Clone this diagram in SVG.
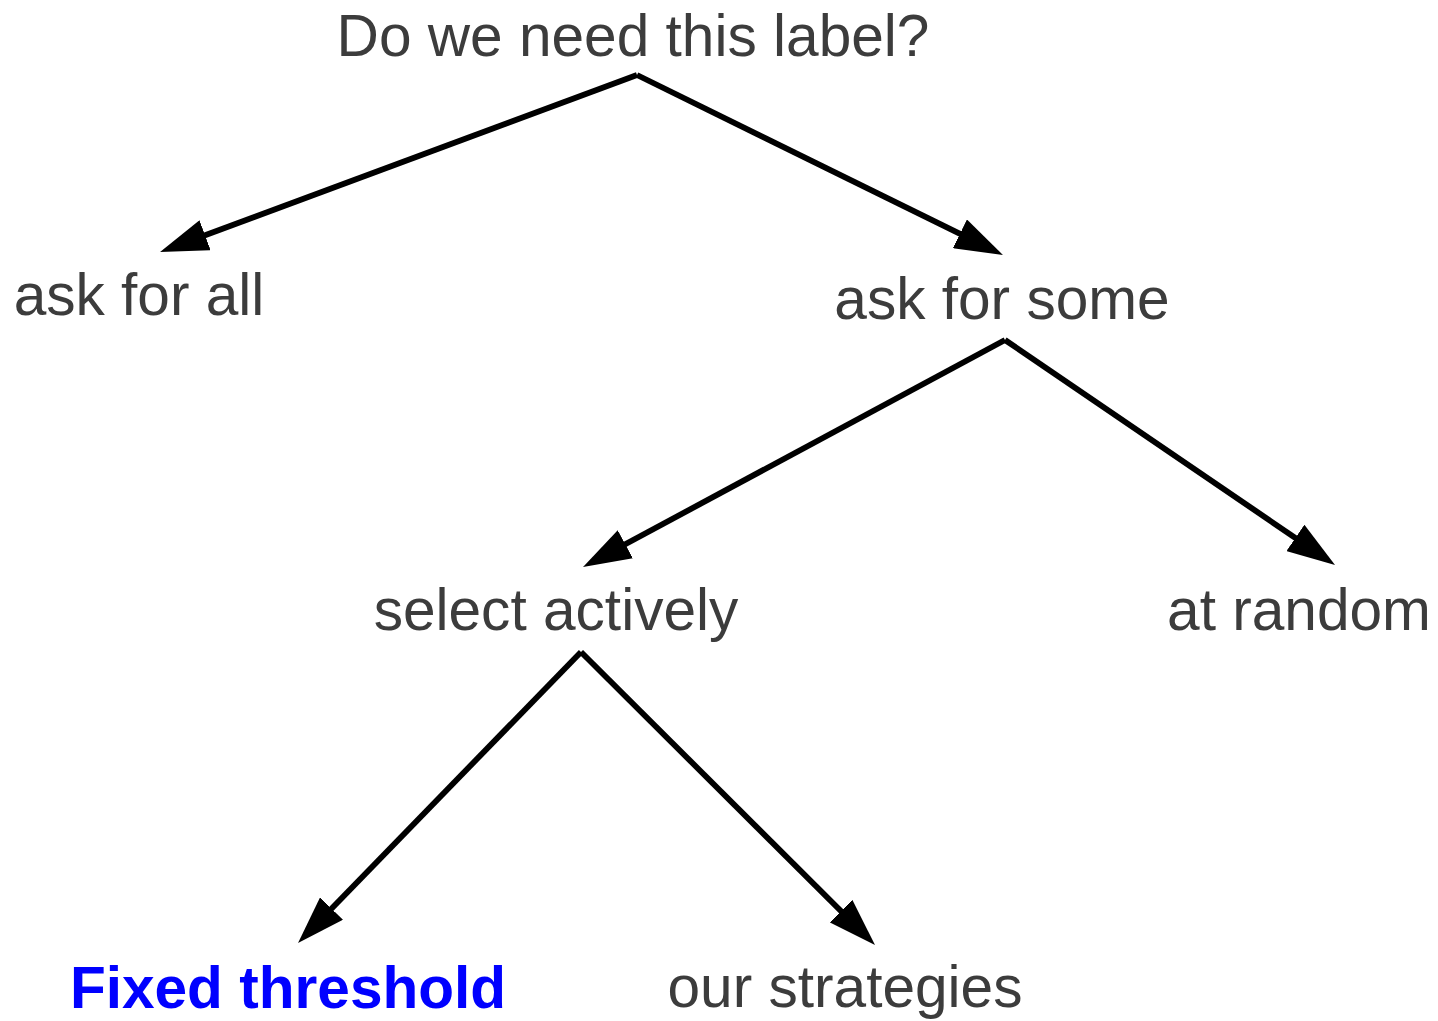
<svg xmlns="http://www.w3.org/2000/svg" width="1438" height="1021" viewBox="0 0 1438 1021">
<style>
.t{font-family:"Liberation Sans",Arial,sans-serif;font-size:58.6px;fill:#3c3c3c;text-anchor:middle}
.b{font-weight:bold;fill:#0000ff}
.e{fill:none;stroke:#000;stroke-width:5.8}
</style>
<defs>
<marker id="ah" markerUnits="userSpaceOnUse" viewBox="0 0 48 32" markerWidth="48" markerHeight="32" refX="36" refY="16" orient="auto">
<path d="M0,0 L48,16 L0,32 z" fill="#000"/>
</marker>
</defs>
<rect width="1438" height="1021" fill="#fff"/>
<g id="connectors">
<line class="e" x1="637" y1="75" x2="171.3" y2="247.8" marker-end="url(#ah)"/>
<line class="e" x1="637" y1="75" x2="992.2" y2="249.7" marker-end="url(#ah)"/>
<line class="e" x1="1005" y1="340" x2="593.6" y2="561.3" marker-end="url(#ah)"/>
<line class="e" x1="1005" y1="340" x2="1325.1" y2="558.2" marker-end="url(#ah)"/>
<line class="e" x1="581" y1="652" x2="306.4" y2="934.4" marker-end="url(#ah)"/>
<line class="e" x1="581" y1="652" x2="866.5" y2="936.5" marker-end="url(#ah)"/>
</g>
<g id="root"><text class="t" x="633" y="56">Do we need this label?</text></g>
<g id="all"><text class="t" x="139" y="315">ask for all</text></g>
<g id="some"><text class="t" x="1002" y="319">ask for some</text></g>
<g id="active"><text class="t" x="556" y="630">select actively</text></g>
<g id="random"><text class="t" x="1299" y="630">at random</text></g>
<g id="fixed"><text class="t b" x="288" y="1008">Fixed threshold</text></g>
<g id="ours"><text class="t" x="845" y="1007">our strategies</text></g>
</svg>
